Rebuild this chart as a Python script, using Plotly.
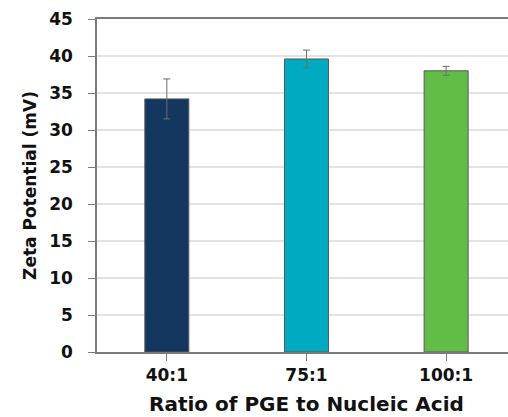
import plotly.graph_objects as go

# Zeta potential of PGE / nucleic acid complexes at three mixing ratios
ratios = ["40:1", "75:1", "100:1"]
zeta_mv = [34.2, 39.6, 38.0]
zeta_err = [2.7, 1.2, 0.6]
bar_colors = ["#13375F", "#00ABC2", "#62BD46"]
y_ticks = [0, 5, 10, 15, 20, 25, 30, 35, 40, 45]

axis_grey = "#7a7a7a"
font_family = "DejaVu Sans, Verdana, sans-serif"
text_color = "#111111"

fig = go.Figure(
    go.Bar(
        x=list(range(len(ratios))),
        y=zeta_mv,
        width=0.315,
        marker=dict(color=bar_colors, line=dict(color="#595959", width=1)),
        error_y=dict(type="data", array=zeta_err, visible=True,
                     color="#6e6e6e", thickness=1, width=3.5),
    )
)

fig.update_layout(
    width=508,
    height=417,
    margin=dict(l=97, r=0, t=19, b=65),
    paper_bgcolor="white",
    plot_bgcolor="white",
    showlegend=False,
    font=dict(family=font_family, color=text_color, weight="bold"),
    annotations=[
        dict(text="Ratio of PGE to Nucleic Acid", x=1, xref="x",
             y=0, yref="paper", yshift=-38, yanchor="top", showarrow=False,
             font=dict(size=20, family=font_family, color=text_color, weight="bold")),
    ],
)

fig.update_xaxes(
    range=[-0.5, 2.443],
    tickmode="array",
    tickvals=list(range(len(ratios))),
    ticktext=ratios,
    tickfont=dict(size=17, weight="bold"),
    tickson="boundaries",
    ticks="outside",
    ticklen=7,
    tickcolor=axis_grey,
    showline=True,
    linecolor=axis_grey,
    linewidth=1.5,
    mirror=True,
    showgrid=False,
    zeroline=False,
)

fig.update_yaxes(
    range=[0, 45],
    tickmode="array",
    tickvals=y_ticks,
    ticktext=[str(v) for v in y_ticks],
    tickfont=dict(size=17, weight="bold"),
    ticks="outside",
    ticklen=7,
    tickcolor=axis_grey,
    ticklabelstandoff=12,
    showline=True,
    linecolor=axis_grey,
    linewidth=1.5,
    showgrid=True,
    gridcolor="#e3e3e3",
    gridwidth=1.5,
    zeroline=False,
    title=dict(text="Zeta Potential (mV)", font=dict(size=17, weight="bold"), standoff=8),
)

fig.write_html("out.html")
